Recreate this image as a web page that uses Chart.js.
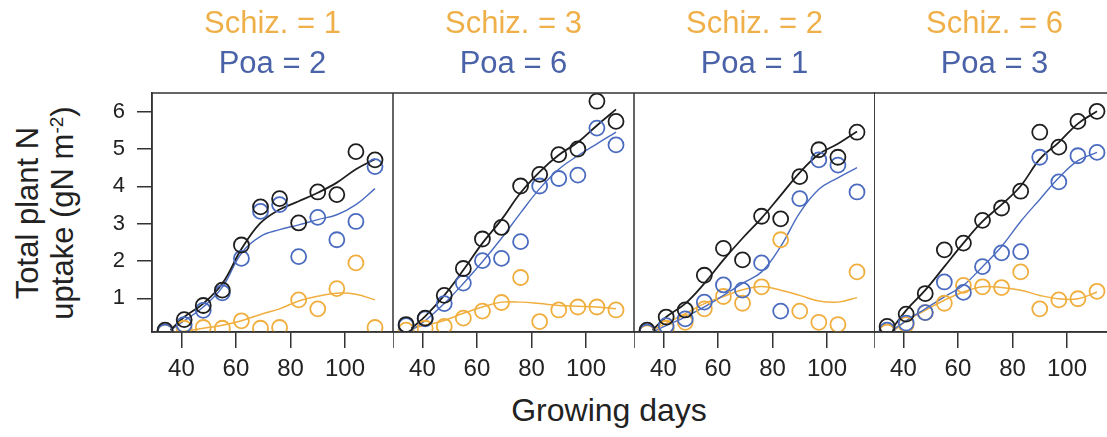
<!DOCTYPE html>
<html><head><meta charset="utf-8">
<script src="https://cdn.jsdelivr.net/npm/chart.js@4.4.0/dist/chart.umd.min.js"></script>
<style>
html{margin:0;padding:0;background:#fff;overflow:hidden;width:1107px;height:437px;}
body{margin:0;padding:0;background:#fff;overflow:hidden;position:relative;width:1140px;height:437px;font-family:"Liberation Sans",Arial,sans-serif;}
canvas{position:absolute;top:0;}
.ttl{position:absolute;top:3px;width:241px;text-align:center;font-size:31px;line-height:40px;white-space:nowrap;}
.ttl .s{color:#efb04a;}
.ttl .p{color:#4a62a8;}
#ytitle{position:absolute;left:-105px;top:178px;width:300px;height:70px;line-height:35px;text-align:center;font-size:31px;color:#222;transform:rotate(-90deg);white-space:nowrap;}
#ytitle sup{font-size:19px;vertical-align:top;position:relative;top:-6px;}
#xtitle{position:absolute;left:459px;top:392px;width:300px;text-align:center;font-size:32px;color:#222;}
</style>
</head><body>
<div id="ytitle">Total plant N<br>uptake (gN m<sup>-2</sup>)</div>
<div id="xtitle">Growing days</div>
<script>
// ---- data ----
const days = [34, 41, 48, 55, 62, 69, 76, 83, 90, 97, 104, 111];
const fitDays = [36, 41, 48, 55, 62, 69, 76, 83, 90, 97, 104, 111];
const schizLabels = [1, 3, 2, 6];
const poaLabels = [2, 6, 1, 3];
const xTicks = [40, 60, 80, 100];
const yTicks = [1, 2, 3, 4, 5, 6];

// Panel 1 (Schiz. = 1, Poa = 2)
const p1Total = [0.15, 0.43, 0.81, 1.22, 2.43, 3.45, 3.67, 3.02, 3.85, 3.78, 4.93, 4.71];
const p1Poa   = [0.10, 0.30, 0.68, 1.15, 2.07, 3.33, 3.51, 2.12, 3.17, 2.57, 3.06, 4.53];
const p1Schiz = [0.10, 0.20, 0.22, 0.20, 0.40, 0.20, 0.22, 0.96, 0.72, 1.26, 1.95, 0.22];
const p1TotalFit = [0.15, 0.50, 0.86, 1.40, 2.32, 3.02, 3.38, 3.60, 3.83, 4.10, 4.46, 4.73];
const p1PoaFit   = [0.15, 0.40, 0.77, 1.30, 2.21, 2.66, 2.84, 2.97, 3.11, 3.24, 3.51, 3.94];
const p1SchizFit = [0.10, 0.12, 0.20, 0.28, 0.40, 0.57, 0.72, 0.93, 1.06, 1.14, 1.11, 0.96];

// Panel 2 (Schiz. = 3, Poa = 6)
const p2Total = [0.30, 0.47, 1.08, 1.80, 2.59, 2.90, 4.01, 4.32, 4.85, 5.00, 6.28, 5.74];
const p2Poa   = [0.27, 0.45, 0.86, 1.41, 2.01, 2.07, 2.52, 4.01, 4.21, 4.30, 5.56, 5.11];
const p2Schiz = [0.15, 0.20, 0.25, 0.47, 0.66, 0.89, 1.56, 0.38, 0.69, 0.77, 0.77, 0.69];
const p2TotalFit = [0.20, 0.52, 1.08, 1.76, 2.48, 3.11, 3.83, 4.39, 4.84, 5.18, 5.63, 6.06];
const p2PoaFit   = [0.15, 0.40, 0.86, 1.40, 1.98, 2.61, 3.29, 3.94, 4.46, 4.82, 5.14, 5.45];
const p2SchizFit = [0.20, 0.28, 0.41, 0.60, 0.77, 0.90, 0.90, 0.86, 0.81, 0.79, 0.77, 0.72];

// Panel 3 (Schiz. = 2, Poa = 1)
const p3Total = [0.15, 0.50, 0.69, 1.62, 2.34, 2.03, 3.20, 3.13, 4.26, 4.98, 4.78, 5.45];
const p3Poa   = [0.10, 0.27, 0.45, 0.90, 1.36, 1.22, 1.95, 0.66, 3.67, 4.71, 4.57, 3.85];
const p3Schiz = [0.08, 0.20, 0.36, 0.72, 1.05, 0.87, 1.31, 2.57, 0.66, 0.36, 0.30, 1.71];
const p3TotalFit = [0.15, 0.50, 0.86, 1.40, 2.03, 2.61, 3.15, 3.76, 4.37, 4.86, 5.14, 5.47];
const p3PoaFit   = [0.10, 0.27, 0.50, 0.77, 1.08, 1.40, 1.71, 2.39, 3.29, 3.92, 4.23, 4.50];
const p3SchizFit = [0.15, 0.33, 0.59, 0.86, 1.05, 1.23, 1.32, 1.22, 1.08, 0.93, 0.90, 1.02];

// Panel 4 (Schiz. = 6, Poa = 3)
const p4Total = [0.25, 0.58, 1.13, 2.30, 2.48, 3.09, 3.42, 3.87, 5.45, 5.05, 5.74, 6.01];
const p4Poa   = [0.15, 0.34, 0.62, 1.44, 1.16, 1.85, 2.22, 2.25, 4.78, 4.12, 4.82, 4.91];
const p4Schiz = [0.10, 0.30, 0.62, 0.87, 1.35, 1.31, 1.29, 1.71, 0.72, 0.96, 0.99, 1.19];
const p4TotalFit = [0.20, 0.68, 1.22, 1.85, 2.48, 3.06, 3.51, 4.01, 4.73, 5.18, 5.68, 6.01];
const p4PoaFit   = [0.15, 0.40, 0.72, 1.04, 1.35, 1.85, 2.39, 3.06, 3.65, 4.23, 4.69, 4.91];
const p4SchizFit = [0.10, 0.40, 0.68, 0.95, 1.17, 1.31, 1.29, 1.22, 1.08, 0.99, 0.99, 1.17];

// ---- styling / layout ----
const FONT = '"Liberation Sans", Arial, sans-serif';
const COL_TOTAL = '#1e1e1e';
const COL_POA = '#4a6bbf';
const COL_SCHIZ = '#f0ae3e';
const AXIS = '#333';
const panelLefts = [152, 393, 634, 874];
const panelW = 241;
const plotTop = 93;
const plotBottom = 332;
const H = 437;

const panels = [
  [p1Total, p1Poa, p1Schiz, p1TotalFit, p1PoaFit, p1SchizFit],
  [p2Total, p2Poa, p2Schiz, p2TotalFit, p2PoaFit, p2SchizFit],
  [p3Total, p3Poa, p3Schiz, p3TotalFit, p3PoaFit, p3SchizFit],
  [p4Total, p4Poa, p4Schiz, p4TotalFit, p4PoaFit, p4SchizFit]
];

function pts(xs, ys) { return xs.map((x, k) => ({x: x, y: ys[k]})); }

function pointDs(ys, col) {
  return {data: pts(days, ys), showLine: false, pointRadius: 7.5, pointHoverRadius: 7.5,
          pointBorderWidth: 1.8, pointBorderColor: col, pointBackgroundColor: 'rgba(0,0,0,0)',
          borderColor: col, backgroundColor: 'rgba(0,0,0,0)'};
}
function fitDs(ys, col, w) {
  return {data: pts(fitDays, ys), showLine: true, pointRadius: 0, pointHoverRadius: 0,
          borderColor: col, borderWidth: w, tension: 0.4, fill: false};
}

panels.forEach((p, i) => {
  const first = i === 0;
  const cLeft = first ? 0 : panelLefts[i];
  const cW = (first ? panelLefts[0] : 0) + panelW;
  const cv = document.createElement('canvas');
  cv.width = cW; cv.height = H;
  cv.style.left = cLeft + 'px';
  cv.style.width = cW + 'px'; cv.style.height = H + 'px';
  document.body.appendChild(cv);

  const t = document.createElement('div');
  t.className = 'ttl';
  t.style.left = panelLefts[i] + 'px';
  t.innerHTML = '<div class="s">Schiz. = ' + schizLabels[i] + '</div><div class="p">Poa = ' + poaLabels[i] + '</div>';
  document.body.appendChild(t);

  const boxPlugin = {
    id: 'box' + i,
    afterDraw(chart) {
      const a = chart.chartArea;
      const c = chart.ctx;
      c.save();
      c.strokeStyle = AXIS; c.lineWidth = 1.5;
      c.strokeRect(a.left, a.top, a.right - a.left, a.bottom - a.top);
      if (!first) {
        c.beginPath(); c.moveTo(a.left, a.bottom); c.lineTo(a.left, a.bottom + 16); c.stroke();
      }
      c.restore();
    }
  };

  new Chart(cv.getContext('2d'), {
    type: 'line',
    data: {datasets: [
      pointDs(p[0], COL_TOTAL), pointDs(p[1], COL_POA), pointDs(p[2], COL_SCHIZ),
      fitDs(p[3], COL_TOTAL, 1.8), fitDs(p[4], COL_POA, 1.4), fitDs(p[5], COL_SCHIZ, 1.5)
    ]},
    options: {
      responsive: false, animation: false, devicePixelRatio: 1,
      layout: {autoPadding: false, padding: {top: plotTop, left: 0, right: 0, bottom: 0}},
      plugins: {legend: {display: false}, tooltip: {enabled: false}, title: {display: false}},
      scales: {
        x: {
          type: 'linear', min: 29.2, max: 117.6,
          afterBuildTicks: s => { s.ticks = xTicks.map(v => ({value: v})); },
          afterFit: s => { s.height = H - plotBottom; s.paddingLeft = 0; s.paddingRight = 0; },
          grid: {display: true, drawOnChartArea: false, drawTicks: true, tickLength: 16, color: AXIS, lineWidth: 1.5},
          border: {display: true, color: AXIS, width: 1.5},
          ticks: {font: {size: 24, family: FONT}, color: '#222', padding: 7, maxRotation: 0, autoSkip: false}
        },
        y: {
          type: 'linear', min: 0.1, max: 6.5, display: first,
          afterBuildTicks: s => { s.ticks = yTicks.map(v => ({value: v})); },
          afterFit: s => { s.width = first ? panelLefts[0] : 0; s.paddingTop = 0; s.paddingBottom = 0; },
          grid: {display: true, drawOnChartArea: false, drawTicks: true, tickLength: 15, color: AXIS, lineWidth: 1.5},
          border: {display: true, color: AXIS, width: 1.5},
          ticks: {font: {size: 22, family: FONT}, color: '#222', padding: 12}
        }
      }
    },
    plugins: [boxPlugin]
  });
});
</script>
</body></html>
